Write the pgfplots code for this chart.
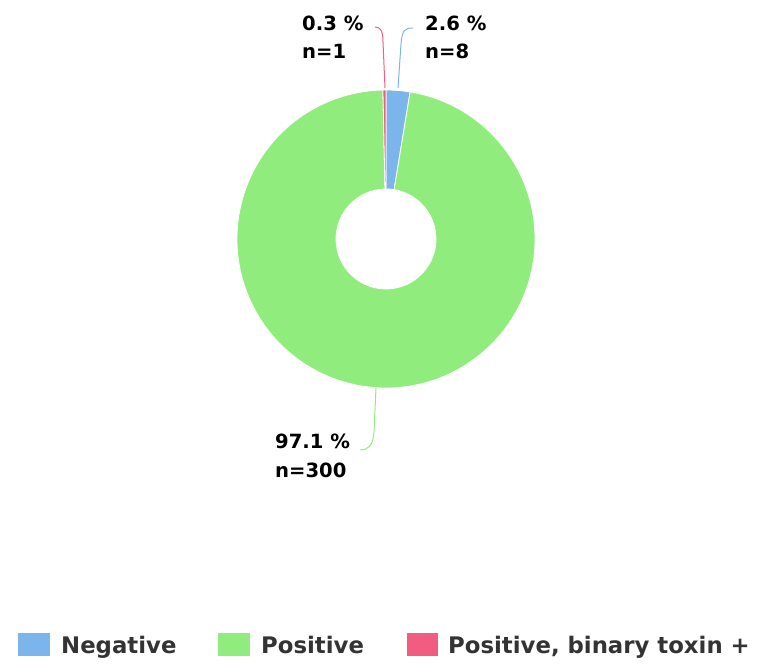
\documentclass[border=0pt]{standalone}
\usepackage{pgfplots}
\pgfplotsset{compat=1.18}
\usepackage{pgfplotstable}
\usepackage{fontspec}
\setmainfont{DejaVu Sans}
\definecolor{cneg}{HTML}{7CB5EC}
\definecolor{cpos}{HTML}{90ED7D}
\definecolor{cbin}{HTML}{F15C80}
\definecolor{ctxt}{HTML}{333333}
\pgfplotstableread{
label value
Negative 8
Positive 300
Binary 1
}\piedata
\begin{document}
\begin{tikzpicture}
\pgfplotstablegetelem{0}{value}\of\piedata \let\vA\pgfplotsretval
\pgfplotstablegetelem{1}{value}\of\piedata \let\vB\pgfplotsretval
\pgfplotstablegetelem{2}{value}\of\piedata \let\vC\pgfplotsretval
\pgfmathsetmacro\tot{\vA+\vB+\vC}
\pgfmathsetmacro\aA{90}
\pgfmathsetmacro\aB{\aA-360*(\vA/\tot)}
\pgfmathsetmacro\aC{\aB-360*(\vB/\tot)}
\pgfmathsetmacro\aD{\aC-360*(\vC/\tot)}
\begin{axis}[
  scale only axis, width=760pt, height=664pt,
  xmin=0, xmax=760, ymin=0, ymax=664,
  hide axis, clip=false]
\path (axis cs:0,0) (axis cs:760,664);
\def\cx{386}\def\cy{425}\def\R{149}\def\r{50}
\newcommand\slice[3]{%
  \filldraw[fill=#3, draw=white, line width=0.8pt]
    (axis cs:{\cx+\R*cos(#1)},{\cy+\R*sin(#1)}) arc[start angle=#1, end angle=#2, radius=\R pt]
    -- (axis cs:{\cx+\r*cos(#2)},{\cy+\r*sin(#2)}) arc[start angle=#2, end angle=#1, radius=\r pt] -- cycle;}
\slice{\aA}{\aB}{cneg}
\slice{\aB}{\aC}{cpos}
\slice{\aC}{\aD}{cbin}
% connectors
\draw[cneg, line width=1pt] (axis cs:398,576) -- (axis cs:401,620) .. controls (axis cs:402,634) and (axis cs:405,636) .. (axis cs:413,636);
\draw[cbin, line width=1pt] (axis cs:385,576) -- (axis cs:383,622) .. controls (axis cs:383,634) and (axis cs:380,637) .. (axis cs:375,637);
\draw[cpos, line width=1pt] (axis cs:376,276) -- (axis cs:374,232) .. controls (axis cs:373,218) and (axis cs:368,214) .. (axis cs:360,214);
% labels
\begin{scope}[every node/.style={font=\fontsize{19.6}{23}\selectfont\bfseries, inner sep=0pt, text=black}]
\node[anchor=base west] at (axis cs:425,633) {2.6 \%};
\node[anchor=base west] at (axis cs:425,605) {n=8};
\node[anchor=base west] at (axis cs:302,633) {0.3 \%};
\node[anchor=base west] at (axis cs:302,605) {n=1};
\node[anchor=base west] at (axis cs:275,215) {97.1 \%};
\node[anchor=base west] at (axis cs:275,186) {n=300};
\end{scope}
% legend
\fill[cneg] (axis cs:18,8) rectangle (axis cs:50,31);
\fill[cpos] (axis cs:218,8) rectangle (axis cs:250,31);
\fill[cbin] (axis cs:407,8) rectangle (axis cs:438,31);
\begin{scope}[every node/.style={font=\fontsize{22.8}{26}\selectfont\bfseries, inner sep=0pt, text=ctxt}]
\node[anchor=base west] at (axis cs:61,11) {Negative};
\node[anchor=base west] at (axis cs:261,11) {Positive};
\node[anchor=base west] at (axis cs:448,11) {Positive, binary toxin +};
\end{scope}
\end{axis}
\end{tikzpicture}
\end{document}
